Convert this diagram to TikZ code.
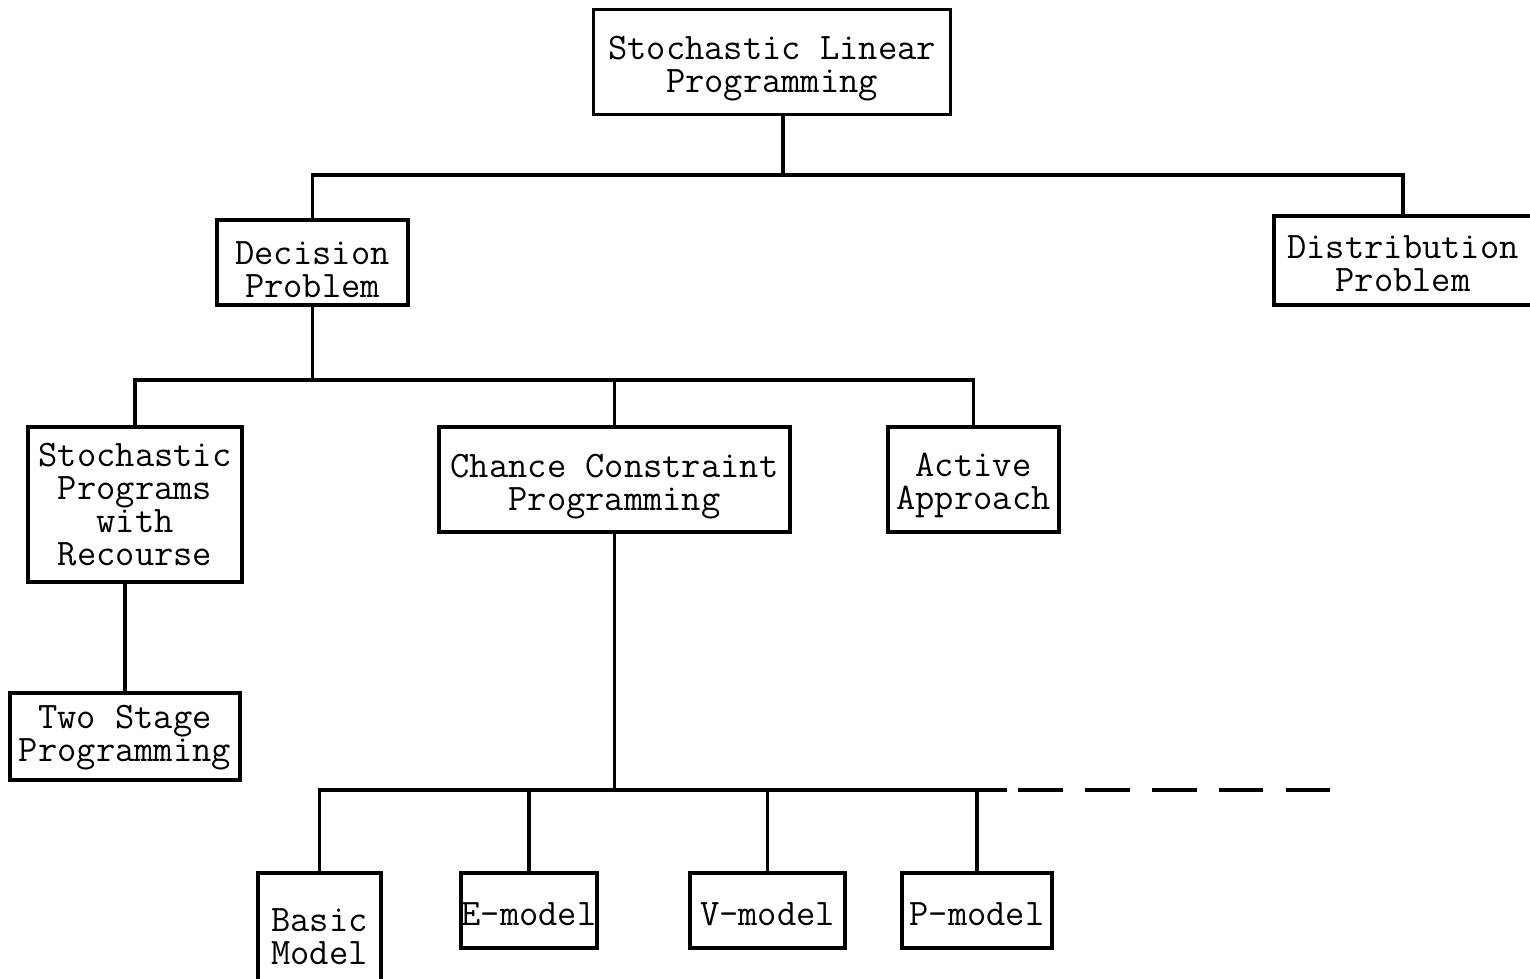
\documentclass[tikz,border=0pt]{standalone}
\usepackage{fontspec}
\begin{document}
\begin{tikzpicture}[x=0.02cm,y=-0.02cm,
  box/.style={draw,line width=1.9pt,inner sep=0pt},
  txt/.style={align=center,inner sep=0pt,
    font=\ttfamily\fontsize{21.3}{18.7}\selectfont},
  conn/.style={line width=1.9pt}]
\useasboundingbox (0,0) rectangle (1530,978);
\fill[white] (0,0) rectangle (1530,978);
\begin{scope}
\clip (0,0) rectangle (1530,978);
\node[box,minimum width=357*0.02cm,minimum height=105*0.02cm] (top) at (772,62) {};
\node[box,minimum width=191*0.02cm,minimum height=85*0.02cm] (dec) at (312.5,262.5) {};
\node[box,minimum width=258*0.02cm,minimum height=89*0.02cm] (dist) at (1403,260.5) {};
\node[box,minimum width=214*0.02cm,minimum height=155*0.02cm] (srec) at (135,504.5) {};
\node[box,minimum width=351*0.02cm,minimum height=105*0.02cm] (ccp) at (614.5,479.5) {};
\node[box,minimum width=171*0.02cm,minimum height=105*0.02cm] (act) at (973.5,479.5) {};
\node[box,minimum width=230*0.02cm,minimum height=87*0.02cm] (two) at (125,736.5) {};
\node[box,minimum width=123*0.02cm,minimum height=124*0.02cm] (basic) at (319.5,935) {};
\node[box,minimum width=136*0.02cm,minimum height=75*0.02cm] (emod) at (529,910.5) {};
\node[box,minimum width=155*0.02cm,minimum height=75*0.02cm] (vmod) at (767.5,910.5) {};
\node[box,minimum width=150*0.02cm,minimum height=75*0.02cm] (pmod) at (977,910.5) {};
% texts
\node[txt] (topT) at ([yshift=-0.14cm]top.center) {Stochastic Linear\\Programming};
\node[txt] (decT) at ([yshift=-0.14cm]dec.center) {Decision\\Problem};
\node[txt] (distT) at ([yshift=-0.06cm]dist.center) {Distribution\\Problem};
\node[txt] (srecT) at ([yshift=-0.0cm]srec.center) {Stochastic\\Programs\\with\\Recourse};
\node[txt] (ccpT) at ([yshift=-0.14cm]ccp.center) {Chance Constraint\\Programming};
\node[txt] (actT) at ([yshift=-0.12cm]act.center) {Active\\Approach};
\node[txt] (twoT) at ([yshift=-0.02cm]two.center) {Two Stage\\Programming};
\node[txt] (basicT) at ([yshift=-0.04cm]basic.center) {Basic\\Model};
\node[txt] (emodT) at ([yshift=-0.08cm]emod.center) {E-model};
\node[txt] (vmodT) at ([yshift=-0.08cm]vmod.center) {V-model};
\node[txt] (pmodT) at ([yshift=-0.08cm]pmod.center) {P-model};
\coordinate (j1) at (783,175);
\coordinate (j2) at (315,380);
\coordinate (j3) at (612,790);
\coordinate (dsA) at (1007,790);
\coordinate (dsB) at (1018,790);
\coordinate (dsC) at (1333,790);
% level 1
\draw[conn] (j1 |- top.south) -- (j1);
\draw[conn] (dec.north) -- (dec.north |- j1) -- (dist.north |- j1) -- (dist.north);
% level 2
\draw[conn] (dec.south) -- (dec.south |- j2);
\draw[conn] (srec.north) -- (srec.north |- j2) -- (act.north |- j2) -- (act.north);
\draw[conn] (ccp.north) -- (ccp.north |- j2);
\draw[conn] (two.north |- srec.south) -- (two.north);
% level 3
\draw[conn] (ccp.south) -- (ccp.south |- j3);
\draw[conn] (basic.north) -- (basic.north |- j3) -- (dsA);
\draw[conn,dash pattern=on 25.4pt off 12.7pt] (dsB) -- (dsC);
\draw[conn] (emod.north) -- (emod.north |- j3);
\draw[conn] (vmod.north) -- (vmod.north |- j3);
\draw[conn] (pmod.north) -- (pmod.north |- j3);
\end{scope}
\end{tikzpicture}
\end{document}
